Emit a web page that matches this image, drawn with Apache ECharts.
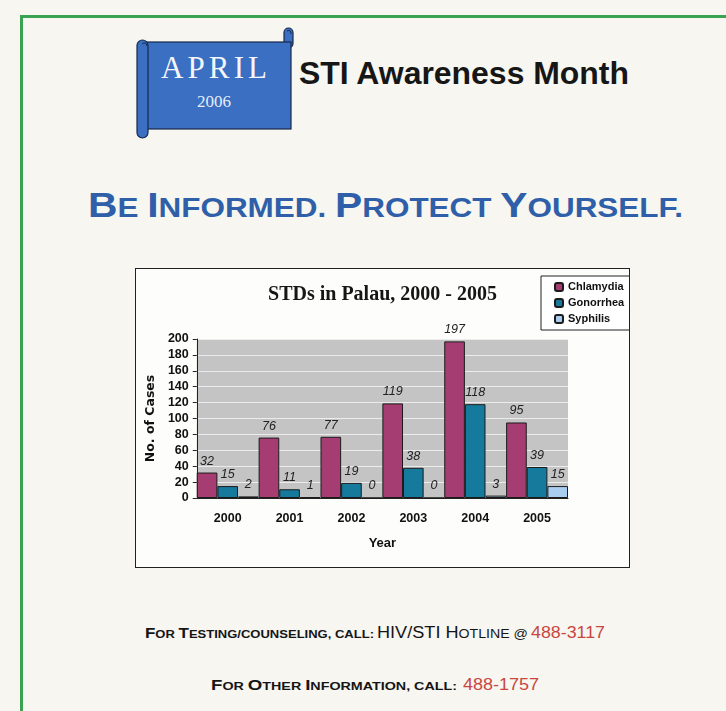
<!DOCTYPE html>
<html>
<head>
<meta charset="utf-8">
<script src="https://cdn.jsdelivr.net/npm/echarts@6/dist/echarts.min.js"></script>
<style>
body{margin:0;background:#f7f6f1;}
.page{position:relative;width:726px;height:711px;overflow:hidden;background:#f7f6f1;}
.poster{position:absolute;left:0;top:0;}
#chart{position:absolute;left:135px;top:268px;width:495px;height:300px;box-sizing:border-box;border:1px solid #222;background:#fdfdfc;}
</style>
</head>
<body>
<div class="page">
  <svg class="poster" width="726" height="711" xmlns="http://www.w3.org/2000/svg">
    <!-- green frame -->
    <rect x="20" y="15" width="706" height="3" fill="#3aa352"/>
    <rect x="20" y="15" width="3" height="696" fill="#3aa352"/>
    <!-- scroll banner -->
    <rect x="284" y="28" width="9" height="20" rx="4.5" fill="#3a6fc1" stroke="#16284a" stroke-width="1.2"/>
    <rect x="144" y="42" width="147" height="87" fill="#3a6fc1" stroke="#16284a" stroke-width="1.2"/>
    <rect x="137" y="40" width="11" height="98" rx="5.5" fill="#3a6fc1" stroke="#16284a" stroke-width="1.2"/>
    <path d="M142 44 q4 -3 5 2" fill="none" stroke="#16284a" stroke-width="1"/>
    <path d="M287 31 q4 -2 4 3" fill="none" stroke="#16284a" stroke-width="1"/>
    <text x="214" y="78" text-anchor="middle" font-family="Liberation Serif" font-size="31" fill="#f4f6fb" textLength="106" lengthAdjust="spacing">APRIL</text>
    <text x="214" y="107" text-anchor="middle" font-family="Liberation Serif" font-size="17" fill="#e8edf8">2006</text>
    <text x="299" y="84" font-family="Liberation Sans" font-weight="bold" font-size="31" fill="#161616" textLength="330" lengthAdjust="spacingAndGlyphs">STI Awareness Month</text>
    <!-- headline -->
    <text x="88" y="217" font-family="Liberation Sans" font-weight="bold" fill="#2f5fa8" textLength="595" lengthAdjust="spacingAndGlyphs"><tspan font-size="35">B</tspan><tspan font-size="27">E </tspan><tspan font-size="35">I</tspan><tspan font-size="27">NFORMED.  </tspan><tspan font-size="35">P</tspan><tspan font-size="27">ROTECT </tspan><tspan font-size="35">Y</tspan><tspan font-size="27">OURSELF.</tspan></text>
    <!-- contact lines -->
    <text x="145" y="638" font-family="Liberation Sans" font-weight="bold" fill="#151515" textLength="229" lengthAdjust="spacingAndGlyphs"><tspan font-size="15">F</tspan><tspan font-size="11.5">OR </tspan><tspan font-size="15">T</tspan><tspan font-size="11.5">ESTING/COUNSELING, CALL:</tspan></text>
    <text x="377" y="638" font-family="Liberation Sans Narrow, Liberation Sans" fill="#151515" textLength="151" lengthAdjust="spacingAndGlyphs"><tspan font-size="16">HIV/STI H</tspan><tspan font-size="12.5">OTLINE @</tspan></text>
    <text x="531" y="638" font-family="Liberation Sans Narrow, Liberation Sans" font-size="16" fill="#c9463f" textLength="74" lengthAdjust="spacingAndGlyphs">488-3117</text>
    <text x="211" y="690" font-family="Liberation Sans" font-weight="bold" fill="#151515" textLength="246" lengthAdjust="spacingAndGlyphs"><tspan font-size="15">F</tspan><tspan font-size="11.5">OR </tspan><tspan font-size="15">O</tspan><tspan font-size="11.5">THER </tspan><tspan font-size="15">I</tspan><tspan font-size="11.5">NFORMATION, CALL:</tspan></text>
    <text x="463" y="690" font-family="Liberation Sans Narrow, Liberation Sans" font-size="16" fill="#c9463f" textLength="76" lengthAdjust="spacingAndGlyphs">488-1757</text>
  </svg>
  <div id="chart"></div>
</div>
<script>
// STDs in Palau, cases per year
const years = ['2000', '2001', '2002', '2003', '2004', '2005'];
const chlamydia = [32, 76, 77, 119, 197, 95];
const gonorrhea = [15, 11, 19, 38, 118, 39];
const syphilis = [2, 1, 0, 0, 3, 15];

const narrow = "'Liberation Sans Narrow', 'Liberation Sans', Arial, sans-serif";

const chart = echarts.init(document.getElementById('chart'));

function barSeries(name, data, color) {
    return {
        name: name,
        type: 'bar',
        data: data,
        barGap: '0%',
        barCategoryGap: '0%',
        itemStyle: {color: color, borderColor: '#1b1b1b', borderWidth: 1},
        label: {
            show: true,
            position: 'top',
            distance: 5,
            fontStyle: 'italic',
            fontSize: 12.5,
            fontFamily: narrow,
            color: '#222'
        }
    };
}

const option = {
    animation: false,
    title: {
        text: 'STDs in Palau, 2000 - 2005',
        left: 'center',
        top: 16,
        padding: 0,
        textStyle: {fontFamily: "'Liberation Serif', serif", fontWeight: 'bold', fontSize: 20, color: '#161616'}
    },
    legend: {
        orient: 'vertical',
        left: 405,
        top: 7,
        padding: [4, 5, 4, 13],
        backgroundColor: '#fff',
        borderColor: '#222',
        borderWidth: 1,
        itemWidth: 8,
        itemHeight: 8,
        itemGap: 2,
        itemTextGap: 4,
        textStyle: {fontFamily: narrow, fontWeight: 'bold', fontSize: 11, lineHeight: 14, width: 60, color: '#111'}
    },
    grid: {
        left: 57,
        right: 61,
        top: 70,
        bottom: 69,
        show: true,
        backgroundColor: '#c4c4c4',
        borderWidth: 0
    },
    xAxis: {
        type: 'category',
        data: years,
        name: 'Year',
        nameLocation: 'middle',
        nameGap: 39,
        nameTextStyle: {fontFamily: narrow, fontWeight: 'bold', fontSize: 13, color: '#111'},
        axisLine: {lineStyle: {color: '#222'}},
        axisTick: {length: 5, lineStyle: {color: '#222'}},
        axisLabel: {margin: 14, fontFamily: narrow, fontWeight: 'bold', fontSize: 12.5, color: '#111'}
    },
    yAxis: {
        type: 'value',
        min: 0,
        max: 200,
        interval: 20,
        name: 'No. of Cases',
        nameLocation: 'middle',
        nameRotate: 90,
        nameGap: 31,
        nameTextStyle: {fontFamily: "'DejaVu Sans', sans-serif", fontWeight: 'bold', fontSize: 12.5, color: '#111'},
        axisLine: {show: true, lineStyle: {color: '#222'}},
        axisTick: {show: true, length: 4, lineStyle: {color: '#222'}},
        axisLabel: {margin: 8, fontFamily: narrow, fontWeight: 'bold', fontSize: 12.5, color: '#111'},
        splitLine: {lineStyle: {color: '#ececec', width: 1}}
    },
    series: [
        barSeries('Chlamydia', chlamydia, '#a63d72'),
        barSeries('Gonorrhea', gonorrhea, '#167a9c'),
        barSeries('Syphilis', syphilis, '#a9cdf0')
    ]
};

chart.setOption(option);
</script>
</body>
</html>
